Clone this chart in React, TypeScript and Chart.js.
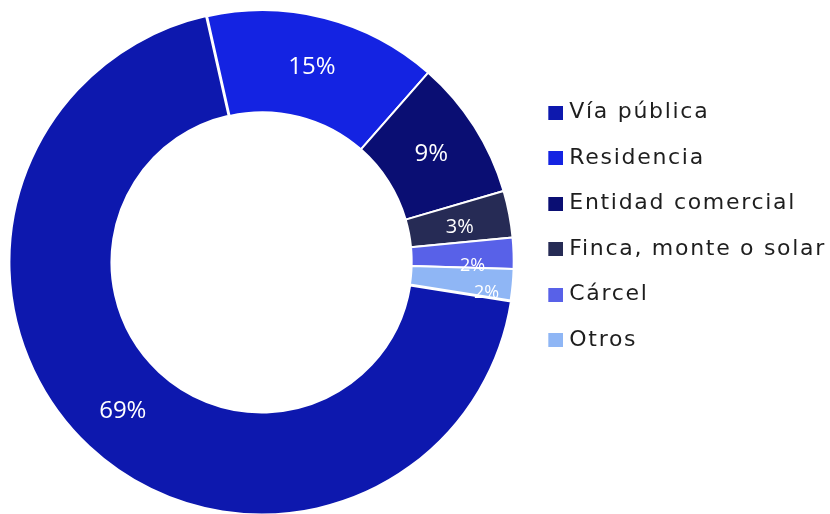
import React, { useEffect, useRef } from 'react';
import { Chart, registerables } from 'chart.js';

Chart.register(...registerables);

// ---- data ----
const categories = ['Vía pública', 'Residencia', 'Entidad comercial', 'Finca, monte o solar', 'Cárcel', 'Otros'];
const percentages = [69, 15, 9, 3, 2, 2];
const sliceColors = ['#0D18AE', '#1423E2', '#0A0E73', '#262B55', '#5861E8', '#8FB6F5'];
const sliceOffsets = [4, 0, 0, 0, 0, 0];

// ---- style ----
const W = 830;
const H = 514;
const LEGEND_FONT = '"DejaVu Sans", sans-serif';
const LABEL_FONT = '"Open Sans", sans-serif';
const LEGEND_SIZE = 22;
const LEGEND_PAD = 23.5;
const LEGEND_BOX_W = 10;
const LETTER_SPACING = '1.7px';
const CHART_RIGHT = 524.8;
const labelSizes = [24, 24, 24, 20, 18, 18];
const labelRadial = [0, 0, 0, 0, 10, 26];
const labelAngle = [0, 0, 0, 1.2, 3.1, 2.6];

function makeSwatch(color: string) {
  const c = document.createElement('canvas');
  c.width = 20;
  c.height = 14;
  const g = c.getContext('2d')!;
  g.fillStyle = color;
  g.fillRect(5, 0, 15, 14);
  return c;
}

const sliceLabels = {
  id: 'sliceLabels',
  afterDatasetsDraw(chart: any) {
    const ctx = chart.ctx;
    const meta = chart.getDatasetMeta(0);
    ctx.save();
    ctx.fillStyle = '#ffffff';
    ctx.textAlign = 'center';
    ctx.textBaseline = 'middle';
    meta.data.forEach((arc: any, i: number) => {
      const p = arc.getProps(['x', 'y', 'startAngle', 'endAngle', 'innerRadius', 'outerRadius'], true);
      const baseMid = (p.startAngle + p.endAngle) / 2;
      const off = sliceOffsets[i] || 0;
      const ox = Math.cos(baseMid) * off;
      const oy = Math.sin(baseMid) * off;
      const mid = baseMid + (labelAngle[i] * Math.PI) / 180;
      const r = (p.innerRadius + p.outerRadius) / 2 + labelRadial[i];
      ctx.font = `${labelSizes[i]}px ${LABEL_FONT}`;
      ctx.fillText(`${percentages[i]}%`, p.x + ox + Math.cos(mid) * r, p.y + oy + Math.sin(mid) * r);
    });
    ctx.restore();
  },
};

// legend text is letter-spaced; labels on the slices are not
const legendSpacing = {
  id: 'legendSpacing',
  beforeLayout(chart: any) {
    chart.ctx.letterSpacing = LETTER_SPACING;
  },
  afterLayout(chart: any) {
    chart.ctx.letterSpacing = '0px';
  },
  beforeDraw(chart: any) {
    chart.ctx.letterSpacing = LETTER_SPACING;
  },
  beforeDatasetsDraw(chart: any) {
    chart.ctx.letterSpacing = '0px';
  },
};

export default function App() {
  const ref = useRef<HTMLCanvasElement>(null);

  useEffect(() => {
    const canvas = ref.current;
    if (!canvas) return;
    const swatches = sliceColors.map(makeSwatch);

    const chart = new Chart(canvas, {
      type: 'doughnut',
      data: {
        labels: categories,
        datasets: [
          {
            data: percentages,
            backgroundColor: sliceColors,
            borderColor: '#ffffff',
            borderWidth: 2,
            offset: sliceOffsets,
            radius: 251.3,
            cutout: '59.4%',
            rotation: 98.9,
            clip: false,
          } as any,
        ],
      },
      options: {
        responsive: false,
        devicePixelRatio: 1,
        animation: false,
        events: [],
        layout: { padding: { top: 9, left: 0, bottom: 0, right: 0 } },
        plugins: {
          tooltip: { enabled: false },
          legend: {
            position: 'right',
            align: 'start',
            maxWidth: W - CHART_RIGHT,
            title: { display: true, text: ' ', font: { size: 10 }, padding: { top: 57, bottom: 0 } },
            labels: {
              usePointStyle: true,
              boxWidth: LEGEND_BOX_W,
              boxHeight: 14,
              padding: LEGEND_PAD,
              color: '#1e1e1e',
              font: { family: LEGEND_FONT, size: LEGEND_SIZE },
              generateLabels: (ch: any) => {
                const base = (Chart as any).overrides.doughnut.plugins.legend.labels.generateLabels(ch);
                return base.map((it: any, i: number) => ({ ...it, pointStyle: swatches[i] }));
              },
            },
          },
        },
      } as any,
      plugins: [sliceLabels, legendSpacing],
    });

    return () => chart.destroy();
  }, []);

  return (
    <div style={{ position: 'absolute', left: 0, top: 0, width: W, height: H, overflow: 'hidden', background: '#fff' }}>
      <canvas ref={ref} width={W} height={H} style={{ display: 'block' }} />
    </div>
  );
}
